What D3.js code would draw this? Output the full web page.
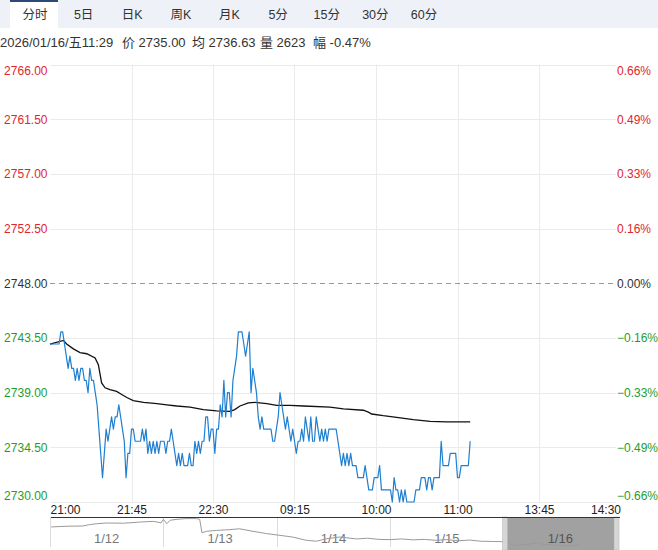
<!DOCTYPE html>
<html>
<head>
<meta charset="utf-8">
<script src="https://cdn.jsdelivr.net/npm/d3@7"></script>
<style>
  body { margin: 0; background: #fff; }
  svg { display: block; font-family: Arial, "Liberation Sans", "Noto Sans CJK SC", sans-serif; }
</style>
</head>
<body>
<svg id="chart" width="658" height="550"></svg>
<script>
// Tabs and header info
const TABS = ['分时', '5日', '日K', '周K', '月K', '5分', '15分', '30分', '60分'];
const INFO = ['2026/01/16/五11:29', '价 2735.00', '均 2736.63', '量 2623', '幅 -0.47%'];

// Price axis
const PRE_CLOSE = 2748;
const PRICE_TICKS = [2766, 2761.5, 2757, 2752.5, 2748, 2743.5, 2739, 2734.5, 2730];

// Time axis (minutes since 21:00 on the trading clock)
const TIME_TICKS = [0, 45, 90, 135, 180, 225, 270, 315];
const TIME_LABELS = ['21:00', '21:45', '22:30', '09:15', '10:00', '11:00', '13:45', '14:30'];

// Minute prices from 21:00
const prices = [
  2743, 2743, 2743, 2743, 2743, 2743, 2744, 2744, 2743, 2742,
  2741, 2742, 2741, 2741, 2740, 2741, 2740, 2741, 2741, 2740,
  2740, 2739, 2741, 2740, 2740, 2739, 2738, 2736, 2734, 2732,
  2734, 2736, 2735, 2736, 2737, 2736, 2737, 2737, 2738, 2737,
  2736, 2735, 2732, 2734, 2734, 2736, 2736, 2735, 2735, 2735,
  2735, 2736, 2735, 2736, 2734, 2735, 2734, 2735, 2734, 2735,
  2734, 2735, 2735, 2735, 2734, 2735, 2735, 2736, 2735, 2734,
  2733, 2734, 2733, 2734, 2733, 2733, 2733, 2734, 2733, 2733,
  2735, 2734, 2735, 2734, 2735, 2735, 2737, 2737, 2735, 2736,
  2736, 2734, 2736, 2736, 2738, 2737, 2740, 2737, 2739, 2739,
  2737, 2740, 2741, 2742, 2744, 2744, 2744, 2743, 2742, 2743,
  2744, 2739, 2741, 2740, 2739, 2737, 2736, 2737, 2736, 2736,
  2736, 2736, 2736, 2735, 2735, 2736, 2737, 2739, 2738, 2737,
  2736, 2737, 2736, 2735, 2736, 2735, 2734, 2735, 2735, 2736,
  2735, 2737, 2736, 2735, 2737, 2735, 2735, 2737, 2736, 2735,
  2736, 2735, 2736, 2735, 2736, 2736, 2736, 2736, 2736, 2735,
  2734, 2733, 2734, 2733, 2734, 2733, 2734, 2733, 2733, 2733,
  2732, 2732, 2732, 2732, 2733, 2732, 2731, 2731, 2731, 2732,
  2732, 2732, 2733, 2731, 2731, 2731, 2731, 2731, 2731, 2730,
  2732, 2731, 2731, 2730, 2731, 2730, 2731, 2730, 2730, 2730,
  2730, 2730, 2731, 2731, 2731, 2732, 2732, 2732, 2731, 2732,
  2732, 2731, 2732, 2732, 2732, 2732, 2735, 2733, 2733, 2733,
  2733, 2734, 2734, 2734, 2734, 2732, 2732, 2733, 2733, 2733,
  2733, 2733, 2735
];

// Average price line, read at these minutes
const avgMinutes = [0, 7.4, 9.2, 12.9, 16.6, 20.3, 24.9, 26.7, 28.5, 30.4, 33.1, 36.8, 39.6, 42.4,
  46, 51.6, 59, 64.5, 70, 77.3, 84.7, 92, 99.4, 102, 104.9, 109.5, 113.2, 119.7, 125.2, 132.5,
  140, 154.6, 162, 173, 175.8, 177.6, 184, 191.4, 200.6, 209.9, 219, 232];
const avgValues = [2743, 2743.3, 2743, 2742.6, 2742.3, 2742.2, 2741.85, 2741.3, 2739.8, 2739.4,
  2739.25, 2739.1, 2738.85, 2738.6, 2738.35, 2738.2, 2738.1, 2738, 2737.9, 2737.8, 2737.6, 2737.5,
  2737.46, 2737.6, 2737.9, 2738.15, 2738.2, 2738.1, 2737.95, 2737.95, 2737.9, 2737.8, 2737.66,
  2737.55, 2737.4, 2737.24, 2737.1, 2736.97, 2736.78, 2736.64, 2736.6, 2736.6];

// Five-day navigator (x in days)
const NAV_DAYS = ['1/12', '1/13', '1/14', '1/15', '1/16'];
const navX = [0.01, 0.15, 0.29, 0.35, 0.41, 0.5, 0.65, 0.79, 0.91, 0.98, 1.0, 1.03, 1.06, 1.12,
  1.2, 1.29, 1.32, 1.34, 1.38, 1.47, 1.58, 1.67, 1.79, 1.91, 2.02, 2.14, 2.26, 2.35, 2.44, 2.55,
  2.6, 2.7, 2.8, 2.9, 3.0, 3.1, 3.2, 3.3, 3.4, 3.5, 3.6, 3.7, 3.8, 3.9, 4.0,
  4.02, 4.05, 4.09, 4.2, 4.3, 4.35, 4.5, 4.58, 4.67];
const navPrices = [2812, 2815, 2816, 2822, 2826, 2829, 2828, 2833, 2836, 2830, 2845, 2826, 2841, 2845,
  2848, 2848, 2845, 2787, 2793, 2797, 2800, 2804, 2793, 2783, 2776, 2768, 2754, 2750, 2761, 2768,
  2766, 2760, 2763, 2758, 2757, 2760, 2756, 2758, 2754, 2757, 2752, 2755, 2750, 2749, 2748,
  2743, 2740, 2732, 2735, 2744, 2736, 2732, 2730, 2735];

const RED = '#e0262b';
const GREEN = '#1f9d2c';
const GRID = '#ebebeb';

const svg = d3.select('#chart');

// ---- tab bar
svg.append('rect').attr('x', 0).attr('y', 0).attr('width', 658).attr('height', 28).attr('fill', '#eef2f8');
svg.append('rect').attr('x', 10).attr('y', 0).attr('width', 48).attr('height', 28).attr('fill', '#fff');
svg.append('rect').attr('x', 10).attr('y', 0).attr('width', 48).attr('height', 2).attr('fill', '#2b4a78');
const tabX = d3.scalePoint().domain(TABS).range([35, 424]);
svg.append('g').selectAll('text')
  .data(TABS)
  .join('text')
  .attr('x', (d) => tabX(d))
  .attr('y', 15)
  .attr('dy', '0.35em')
  .attr('text-anchor', 'middle')
  .attr('font-size', 12.5)
  .attr('fill', '#333')
  .text((d) => d);

// ---- info line
const infoX = [0, 122, 192, 260, 313];
svg.append('g').selectAll('text')
  .data(INFO)
  .join('text')
  .attr('x', (d, i) => infoX[i])
  .attr('y', 42)
  .attr('dy', '0.35em')
  .attr('font-size', 13)
  .attr('fill', '#333')
  .text((d) => d);

// ---- scales
const x = d3.scaleLinear().domain([0, 315]).range([50, 620.5]);
const y = d3.scaleLinear().domain([2730, 2766]).range([502, 64.5]);
const plotRight = 616;

const pctText = (d) => `${d3.format('.2f')((d - PRE_CLOSE) / PRE_CLOSE * 100)}%`;
const labelColor = (d) => (d > PRE_CLOSE ? RED : d < PRE_CLOSE ? GREEN : '#333');

// grid
const grid = svg.append('g');
grid.selectAll('line.h')
  .data(PRICE_TICKS.filter((d) => d !== PRE_CLOSE))
  .join('line')
  .attr('class', 'h')
  .attr('x1', 50).attr('x2', plotRight)
  .attr('y1', (d) => Math.round(y(d)) + 0.5).attr('y2', (d) => Math.round(y(d)) + 0.5)
  .attr('stroke', GRID);
grid.selectAll('line.v')
  .data(TIME_TICKS.slice(1, -1))
  .join('line')
  .attr('class', 'v')
  .attr('x1', (d) => Math.round(x(d)) + 0.5).attr('x2', (d) => Math.round(x(d)) + 0.5)
  .attr('y1', y(2766)).attr('y2', y(2730))
  .attr('stroke', GRID);
grid.append('line')
  .attr('x1', 50).attr('x2', plotRight)
  .attr('y1', Math.round(y(PRE_CLOSE)) + 0.5).attr('y2', Math.round(y(PRE_CLOSE)) + 0.5)
  .attr('stroke', '#999')
  .attr('stroke-dasharray', '5,4');

// left axis
const leftAxis = svg.append('g')
  .attr('transform', 'translate(47.5,0)')
  .call(d3.axisLeft(y).tickValues(PRICE_TICKS).tickSize(0).tickPadding(0).tickFormat(d3.format('.2f')));
// right axis
const rightAxis = svg.append('g')
  .attr('transform', 'translate(617,0)')
  .call(d3.axisRight(y).tickValues(PRICE_TICKS).tickSize(0).tickPadding(0).tickFormat(pctText));

[leftAxis, rightAxis].forEach((g) => {
  g.select('.domain').remove();
  g.selectAll('text')
    .attr('font-size', 12)
    .attr('font-family', null)
    .attr('fill', (d) => labelColor(d))
    .attr('transform', (d) => (d === 2766 ? 'translate(0,6)' : d === 2730 ? 'translate(0,-6)' : null));
});

// bottom axis
const bottomAxis = svg.append('g')
  .attr('transform', `translate(0,${y(2730)})`)
  .call(d3.axisBottom(x).tickValues(TIME_TICKS).tickSize(0).tickPadding(3)
    .tickFormat((d, i) => TIME_LABELS[i]));
bottomAxis.select('.domain').remove();
bottomAxis.selectAll('text')
  .attr('font-size', 12)
  .attr('font-family', null)
  .attr('fill', '#222')
  .attr('text-anchor', (d, i) => (i === 0 ? 'start' : i === TIME_TICKS.length - 1 ? 'end' : 'middle'));

// avg line
svg.append('path')
  .datum(avgMinutes.map((m, i) => [m, avgValues[i]]))
  .attr('fill', 'none')
  .attr('stroke', '#111')
  .attr('stroke-width', 1.3)
  .attr('d', d3.line().x((d) => x(d[0])).y((d) => y(d[1])));

// price line
svg.append('path')
  .datum(prices)
  .attr('fill', 'none')
  .attr('stroke', '#1f7fd1')
  .attr('stroke-width', 1.2)
  .attr('stroke-linejoin', 'round')
  .attr('d', d3.line().x((d, i) => x(i)).y((d) => y(d)));

// ---- navigator
const navTop = 517;
const navBottom = 547;
const nx = d3.scaleLinear().domain([0, 5]).range([50, 617]);
const ny = d3.scaleLinear().domain([2725, 2855]).range([navBottom, navTop]);
const nav = svg.append('g');

nav.selectAll('line.sep')
  .data([0, 1, 2, 3])
  .join('line')
  .attr('class', 'sep')
  .attr('x1', (d) => Math.round(nx(d)) + 0.5).attr('x2', (d) => Math.round(nx(d)) + 0.5)
  .attr('y1', navTop).attr('y2', navBottom)
  .attr('stroke', '#dcdcdc');

nav.selectAll('text')
  .data(NAV_DAYS.slice(0, 4))
  .join('text')
  .attr('x', (d, i) => nx(i + 0.5))
  .attr('y', 538)
  .attr('dy', '0.35em')
  .attr('text-anchor', 'middle')
  .attr('font-size', 13)
  .attr('fill', '#777')
  .text((d) => d);

nav.append('path')
  .datum(navX.map((v, i) => [v, navPrices[i]]))
  .attr('fill', 'none')
  .attr('stroke', '#9a9a9a')
  .attr('stroke-width', 1)
  .attr('d', d3.line().x((d) => nx(d[0])).y((d) => ny(d[1])));

// selected range (current day)
nav.append('rect')
  .attr('x', nx(4)).attr('y', navTop)
  .attr('width', nx(5) - nx(4)).attr('height', navBottom - navTop + 3)
  .attr('fill', '#999')
  .attr('fill-opacity', 0.92);
[nx(4) - 1, nx(5) - 3].forEach((hx) => {
  nav.append('rect')
    .attr('x', hx).attr('y', navTop)
    .attr('width', 5).attr('height', navBottom - navTop + 3)
    .attr('fill', '#d6d6d6')
    .attr('stroke', '#b0b0b0')
    .attr('stroke-width', 0.5);
});
nav.append('text')
  .attr('x', nx(4.5))
  .attr('y', 538)
  .attr('dy', '0.35em')
  .attr('text-anchor', 'middle')
  .attr('font-size', 13)
  .attr('fill', '#555')
  .text(NAV_DAYS[4]);

nav.append('line')
  .attr('x1', 50).attr('x2', 620)
  .attr('y1', navTop + 0.5).attr('y2', navTop + 0.5)
  .attr('stroke', '#333');
nav.append('line')
  .attr('x1', 50.5).attr('x2', 50.5)
  .attr('y1', navTop).attr('y2', navBottom)
  .attr('stroke', '#dcdcdc');
</script>
</body>
</html>
